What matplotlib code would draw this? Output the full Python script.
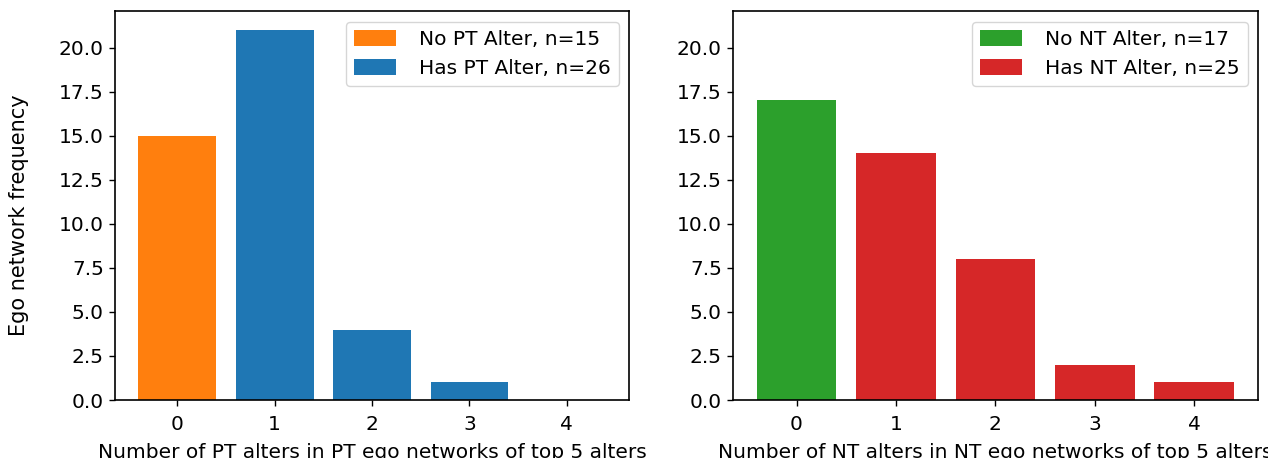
import matplotlib
matplotlib.use("Agg")
from matplotlib import pyplot as plt

# counts of ego networks by number of alters of each type among the top 5
pt_counts = [15, 21, 4, 1, 0]
nt_counts = [17, 14, 8, 2, 1]
positions = [0, 1, 2, 3, 4]

pt_labels = ["No PT Alter, n=15", "Has PT Alter, n=26"]
nt_labels = ["No NT Alter, n=17", "Has NT Alter, n=25"]

plt.rcParams["font.size"] = 14.5
plt.rcParams["axes.linewidth"] = 1.2
plt.rcParams["xtick.major.size"] = 4.5
plt.rcParams["ytick.major.size"] = 4.5
plt.rcParams["xtick.major.width"] = 1.0
plt.rcParams["ytick.major.width"] = 1.0
plt.rcParams["xtick.major.pad"] = 6.5

fig = plt.figure(figsize=(12.68, 4.58), dpi=100)
ax1 = fig.add_axes([0.0907, 0.1266, 0.4055, 0.8483])
ax2 = fig.add_axes([0.578, 0.1266, 0.414, 0.8483], sharey=ax1)


def draw(ax, counts, colors, labels, xlabel):
    first = ax.bar(positions[:1], counts[:1], color=colors[0], label=labels[0])
    rest = ax.bar(positions[1:], counts[1:], color=colors[1], label=labels[1])
    ax.set_xticks(positions)
    ax.set_xlabel(xlabel, fontsize=14.5, labelpad=6)
    ax.legend(handles=[first, rest], loc="upper right", fontsize=14.5,
              handlelength=2.1, handleheight=0.85, handletextpad=1.15,
              borderaxespad=0.5)
    ax.tick_params(labelsize=14.5)


draw(ax1, pt_counts, ["#ff7f0e", "#1f77b4"], pt_labels,
     "Number of PT alters in PT ego networks of top 5 alters")
draw(ax2, nt_counts, ["#2ca02c", "#d62728"], nt_labels,
     "Number of NT alters in NT ego networks of top 5 alters")
ax2.tick_params(labelleft=True)

fig.text(0.0146, 0.531, "Ego network frequency", rotation=90,
         ha="center", va="center", fontsize=15)

fig.savefig("out.png", dpi=100)
